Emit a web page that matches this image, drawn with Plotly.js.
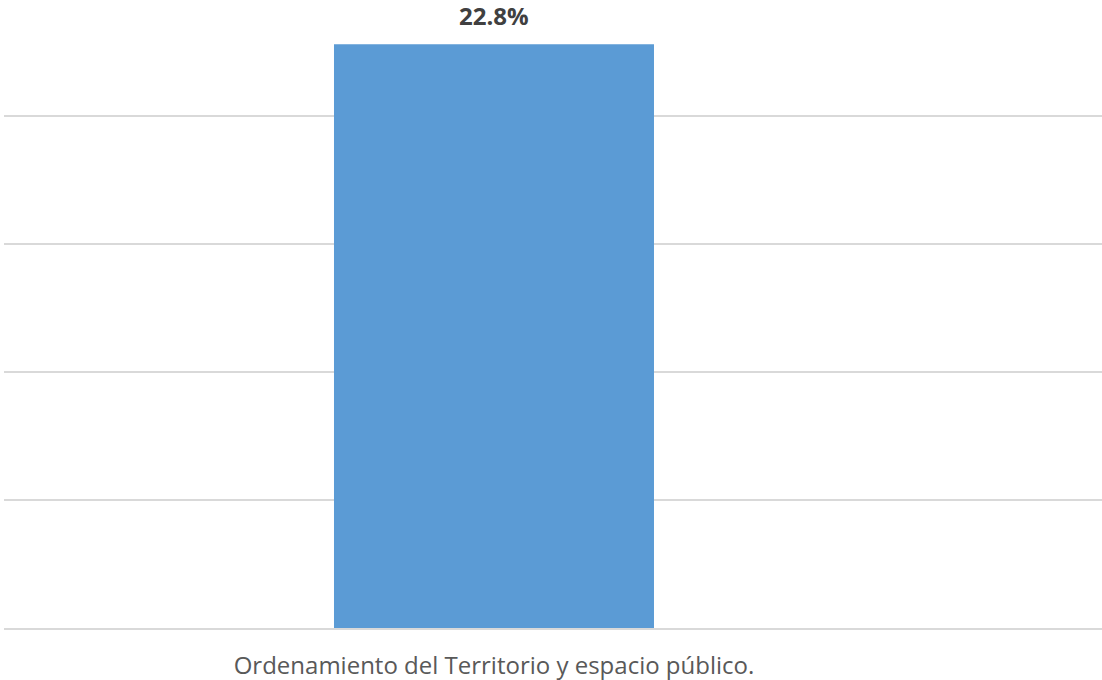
<!DOCTYPE html>
<html>
<head>
<meta charset="utf-8">
<script src="https://cdn.plot.ly/plotly-3.0.1.min.js"></script>
<style>html,body{margin:0;padding:0;background:#fff;}#chart{width:1102px;height:680px;}</style>
</head>
<body>
<div id="chart"></div>
<script>
const categories = ["Ordenamiento del Territorio y espacio público."];
const values = [22.8];
const valueLabels = ["22.8%"];
const gridTicks = [0, 5, 10, 15, 20];

const trace = {
  type: 'bar',
  x: categories,
  y: values,
  width: 0.5,
  marker: {color: '#5b9bd5'},
  hoverinfo: 'skip'
};

const annotations = categories.map((c, i) => ({
  x: c, y: values[i], xref: 'x', yref: 'y',
  text: '<b>' + valueLabels[i] + '</b>',
  showarrow: false, yanchor: 'bottom', yshift: 10,
  font: {family: 'Open Sans, sans-serif', size: 24, color: '#404040'}
}));

const layout = {
  width: 1102, height: 680,
  margin: {l: 4, r: 0, t: 0, b: 52},
  paper_bgcolor: '#ffffff', plot_bgcolor: '#ffffff',
  showlegend: false,
  xaxis: {
    type: 'category',
    range: [-0.7656, 0.95],
    showgrid: false, zeroline: false,
    showline: true, linecolor: '#d9d9d9', linewidth: 1.5,
    ticks: '', ticklabelstandoff: 16,
    tickfont: {family: 'Open Sans, sans-serif', size: 24, color: '#595959'}
  },
  yaxis: {
    range: [0, 24.53],
    tickvals: gridTicks,
    showticklabels: false,
    showgrid: true, gridcolor: '#d9d9d9', gridwidth: 1.5,
    zeroline: false, showline: false, ticks: ''
  },
  annotations: annotations
};

Plotly.newPlot('chart', [trace], layout, {displayModeBar: false, staticPlot: true});
</script>
</body>
</html>
